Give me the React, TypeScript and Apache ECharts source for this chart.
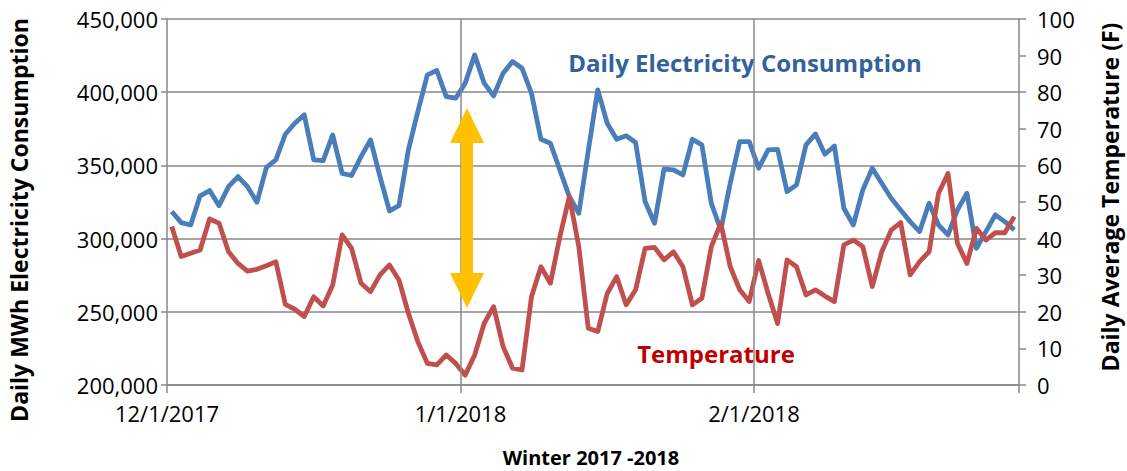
import React, { useEffect, useRef } from "react";
import * as echarts from "echarts";

// Daily electricity consumption (MWh), 12/1/2017 .. 2/28/2018
const consumption: number[] = [
  318500, 310900, 309300, 329200, 332800, 322500, 335500, 342400, 335500, 324800,
  348700, 353800, 371300, 378800, 384500, 353800, 353300, 370800, 344600, 343100,
  356000, 367400, 342400, 318900, 322500, 360600, 386800, 411800, 414800, 397000,
  395900, 406200, 425500, 406200, 397500, 413000, 421000, 416400, 399300, 367900,
  365100, 346900, 328700, 317300, 360000, 401600, 378800, 367900, 370200, 365600,
  325300, 310500, 347400, 346900, 343500, 367900, 364000, 324100, 305900, 338000,
  366300, 366300, 348100, 360600, 361000, 332100, 336700, 364000, 371500, 357600,
  363300, 320700, 309300, 333300, 348100, 337800, 327600, 319600, 311600, 304800,
  324100, 309300, 302500, 319600, 331000, 293400, 304800, 316200, 311600, 306000,
];

// Daily average temperature (F)
const temperature: number[] = [
  43.3, 35.1, 36.0, 36.9, 45.4, 44.2, 36.4, 33.2, 31.1, 31.6,
  32.6, 33.7, 22.0, 20.7, 18.7, 24.1, 21.6, 27.3, 41.0, 37.3,
  27.8, 25.5, 30.1, 32.8, 28.7, 19.6, 11.8, 5.9, 5.5, 8.2,
  5.9, 2.7, 8.2, 16.8, 21.4, 10.5, 4.6, 4.1, 24.1, 32.3,
  27.8, 40.5, 51.5, 37.8, 15.5, 14.6, 25.0, 29.6, 21.9, 26.0,
  37.3, 37.6, 34.2, 36.4, 32.3, 21.9, 23.7, 37.8, 44.2, 32.3,
  26.0, 22.8, 34.0, 25.0, 16.8, 34.2, 32.3, 24.6, 26.0, 24.3,
  22.8, 38.3, 39.6, 37.8, 26.9, 36.4, 42.3, 44.4, 30.1, 33.7,
  36.4, 52.4, 57.8, 38.7, 33.2, 42.8, 39.6, 41.6, 41.6, 46.0,
];

// Month boundaries (days since 12/1/2017) and their labels
const monthDays: number[] = [0, 31, 62, 90];
const monthLabels: string[] = ["12/1/2017", "1/1/2018", "2/1/2018"];

const FONT = "'Open Sans', 'Noto Sans', sans-serif";
const GRID = "#888888";
const TICK_FS = 22;
const TITLE_FS = 23;

export default function App() {
  const ref = useRef<HTMLDivElement>(null);

  useEffect(() => {
    if (!ref.current) return;
    const chart = echarts.init(ref.current, undefined, { renderer: "svg" });

    const blueData = consumption.map((v, i) => [i + 0.5, v]);
    const redData = temperature.map((v, i) => [i + 0.5, v]);

    const option: any = {
      animation: false,
      backgroundColor: "#ffffff",
      grid: { left: 167, right: 108, top: 19, bottom: 86, containLabel: false },
      xAxis: {
        type: "value",
        min: 0,
        max: 90,
        axisLine: { show: true, lineStyle: { color: GRID, width: 1.5 } },
        axisTick: {
          show: true,
          customValues: monthDays,
          length: 8,
          lineStyle: { color: GRID, width: 1.5 },
        },
        axisLabel: {
          customValues: monthDays.slice(0, 3),
          formatter: (v: number) => monthLabels[monthDays.indexOf(v)] ?? "",
          fontFamily: FONT,
          fontSize: TICK_FS,
          color: "#000",
          margin: 17,
        },
        splitLine: { show: false },
      },
      yAxis: [
        {
          type: "value",
          min: 200000,
          max: 450000,
          interval: 50000,
          axisLine: { show: true, lineStyle: { color: GRID, width: 1.5 } },
          axisTick: { show: true, length: 6, lineStyle: { color: GRID, width: 1.5 } },
          axisLabel: {
            formatter: (v: number) => v.toLocaleString("en-US"),
            fontFamily: FONT,
            fontSize: TICK_FS,
            color: "#000",
            margin: 9,
          },
          splitLine: { show: true, lineStyle: { color: GRID, width: 1.5 } },
        },
        {
          type: "value",
          min: 0,
          max: 100,
          interval: 10,
          position: "right",
          axisLine: { show: true, lineStyle: { color: GRID, width: 1.5 } },
          axisTick: { show: true, length: 7, lineStyle: { color: GRID, width: 1.5 } },
          axisLabel: {
            fontFamily: FONT,
            fontSize: TICK_FS,
            color: "#000",
            margin: 18,
          },
          splitLine: { show: false },
        },
      ],
      series: [
        {
          type: "line",
          name: "grid",
          data: [[0, 200000]],
          showSymbol: false,
          symbol: "none",
          lineStyle: { width: 0, opacity: 0 },
          silent: true,
          z: 1,
          markLine: {
            silent: true,
            symbol: "none",
            label: { show: false },
            lineStyle: { color: GRID, width: 1.5, type: "solid" },
            data: [{ xAxis: monthDays[1] }, { xAxis: monthDays[2] }],
          },
        },
        {
          type: "line",
          name: "Daily Electricity Consumption",
          data: blueData,
          yAxisIndex: 0,
          symbol: "none",
          lineStyle: { color: "#4A7EBB", width: 4.8, join: "round" },
          z: 3,
        },
        {
          type: "line",
          name: "Temperature",
          data: redData,
          yAxisIndex: 1,
          symbol: "none",
          lineStyle: { color: "#C0504D", width: 4.8, join: "round" },
          z: 4,
        },
      ],
      graphic: [
        {
          type: "text",
          x: 745,
          y: 62,
          style: {
            text: "Daily Electricity Consumption",
            fill: "#31629E",
            font: `bold 24px ${FONT}`,
            align: "center",
            verticalAlign: "middle",
          },
        },
        {
          type: "text",
          x: 716,
          y: 353,
          style: {
            text: "Temperature",
            fill: "#C00000",
            font: `bold 24px ${FONT}`,
            align: "center",
            verticalAlign: "middle",
          },
        },
        {
          type: "text",
          x: 591,
          y: 457,
          style: {
            text: "Winter 2017 -2018",
            fill: "#000",
            font: `bold 20px ${FONT}`,
            align: "center",
            verticalAlign: "middle",
          },
        },
        {
          type: "text",
          x: 19,
          y: 220,
          rotation: Math.PI / 2,
          style: {
            text: "Daily MWh Electricity Consumption",
            fill: "#000",
            font: `bold ${TITLE_FS}px ${FONT}`,
            align: "center",
            verticalAlign: "middle",
          },
        },
        {
          type: "text",
          x: 1110,
          y: 197,
          rotation: Math.PI / 2,
          style: {
            text: "Daily Average Temperature (F)",
            fill: "#000",
            font: `bold ${TITLE_FS}px ${FONT}`,
            align: "center",
            verticalAlign: "middle",
          },
        },
        {
          type: "polygon",
          z: 10,
          shape: {
            points: [
              [467, 108],
              [484, 143],
              [473, 143],
              [473, 273],
              [484, 273],
              [467, 308],
              [450, 273],
              [461, 273],
              [461, 143],
              [450, 143],
            ],
          },
          style: { fill: "#FFC000" },
        },
      ],
    };

    chart.setOption(option);
    return () => chart.dispose();
  }, []);

  return (
    <div
      ref={ref}
      style={{ position: "fixed", left: 0, top: 0, width: 1127, height: 471 }}
    />
  );
}
